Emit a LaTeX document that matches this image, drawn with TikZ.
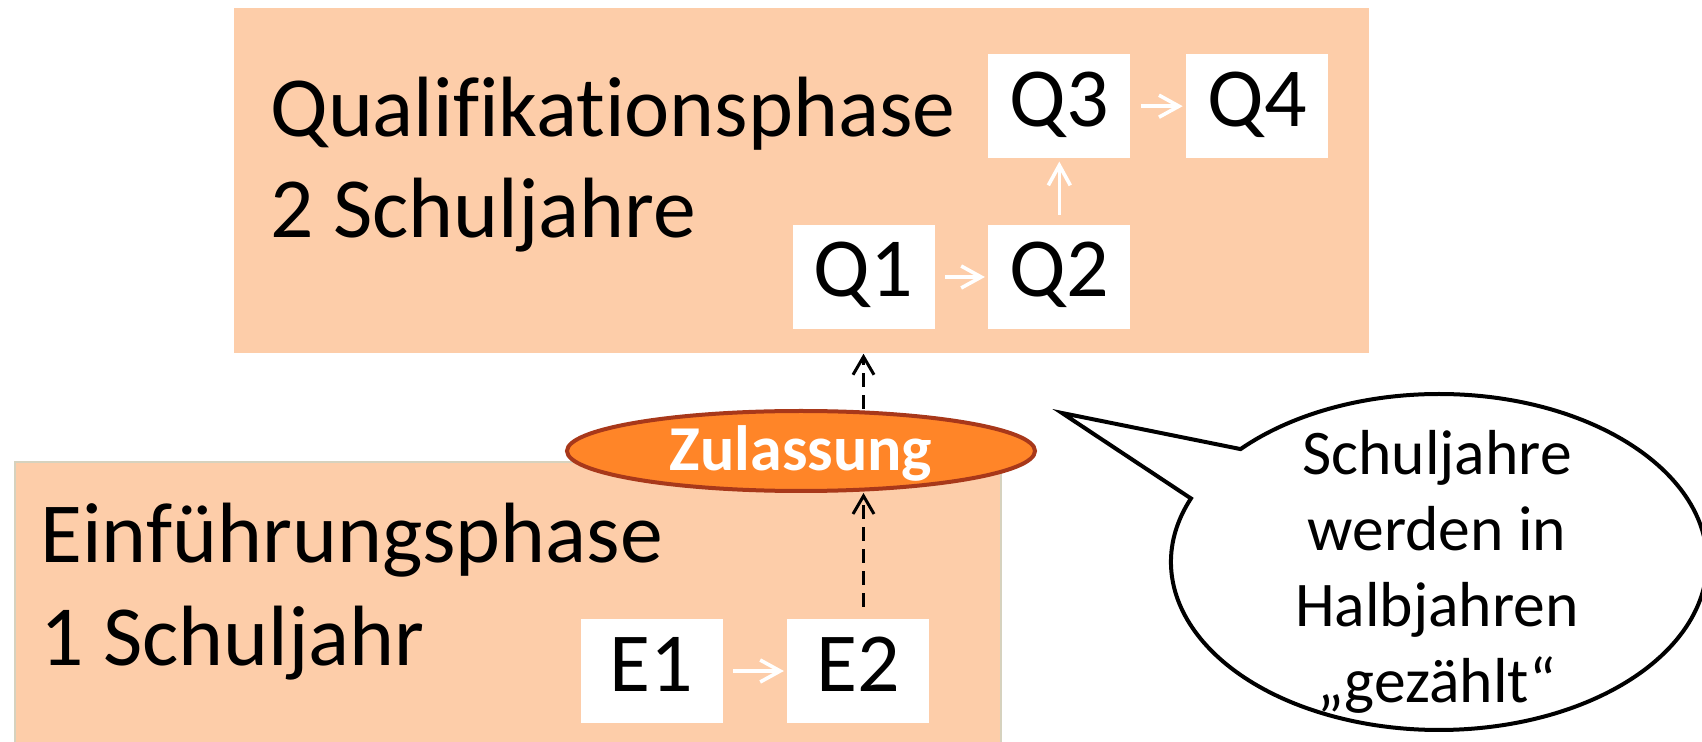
\documentclass[tikz,border=0pt]{standalone}
\usepackage{fontspec}
\setmainfont{Carlito}[Ligatures={TeX,NoCommon}]
\usetikzlibrary{arrows.meta,positioning,shapes.geometric,shapes.callouts}

\definecolor{pfirsich}{RGB}{253,205,169}
\definecolor{phasenrand}{RGB}{214,210,190}
\definecolor{zulassorange}{RGB}{255,133,40}
\definecolor{zulassrand}{RGB}{168,56,26}

\begin{document}
\begin{tikzpicture}[x=0.5pt,y=-0.5pt,
	phase/.style={fill=pfirsich,inner sep=0pt,anchor=north west},
	titel/.style={inner sep=0pt,anchor=base west,font=\fontsize{42.8}{50}\selectfont},
	halbjahr/.style={fill=white,inner sep=0pt,minimum width=71pt,minimum height=52pt,
		text height=27pt,text depth=7pt,font=\fontsize{42}{50}\selectfont},
	weiter/.style={white,line width=1.8pt,-{Straight Barb[length=10pt,width=11pt]},
		shorten <=5pt,shorten >=1.5pt},
	zulass pfeil/.style={black,line width=1.5pt,dash pattern=on 7pt off 4pt,
		-{Straight Barb[length=9pt,width=10.5pt]}}]
	\useasboundingbox (0,0) rectangle (1702,742);
	% Phasen
	\node[phase,minimum width=567.5pt,minimum height=172.5pt] (qphase) at (234,8) {};
	\node[phase,draw=phasenrand,line width=1pt,minimum width=493pt,minimum height=145pt] (ephase) at (14,461) {};
	\node[titel] (qtitel) at (270,137) {Qualifikationsphase};
	\node[titel] (qdauer) at (270,238) {2 Schuljahre};
	\node[titel] (etitel) at (40,563) {Einführungsphase};
	\node[titel] (edauer) at (40,665) {1 Schuljahr};
	% Halbjahre
	\node[halbjahr] (q1) at (863.5,277) {Q1};
	\node[halbjahr] [right=26.5pt of q1] (q2) {Q2};
	\node[halbjahr] [above=33pt of q2] (q3) {Q3};
	\node[halbjahr] [right=27.5pt of q3] (q4) {Q4};
	\node[halbjahr] (e1) at (651.5,671) {E1};
	\node[halbjahr] [right=32pt of e1] (e2) {E2};
	\path[weiter]
	(q1) edge (q2)
	(q2) edge (q3)
	(q3) edge (q4)
	(e1) edge (e2);
	% Zulassung
	\node[ellipse,fill=zulassorange,draw=zulassrand,line width=2pt,minimum width=234pt,minimum height=40pt,
		inner sep=0pt,text=white,font=\bfseries\fontsize{32}{38}\selectfont,text height=20pt,text depth=0pt]
		(zulassung) at (801,451) {Zulassung};
	\draw[zulass pfeil,shorten <=6pt] (e2.north -| q1) -- (zulassung.south -| q1);
	\draw[zulass pfeil] (zulassung.north -| q1) -- (qphase.south -| q1);
	% Sprechblase
	\coordinate (spitze) at (1062,413);
	\node[ellipse callout,draw,fill=white,line width=2pt,minimum width=268pt,minimum height=168pt,
		callout absolute pointer={(spitze)},callout pointer arc=20] (hinweis) at (1439,562) {};
	\node[align=center,inner sep=0pt,font=\fontsize{31.8}{38}\selectfont] (hinweistext) at (1437,572)
		{Schuljahre\\werden in\\Halbjahren\\„gezählt“};
\end{tikzpicture}
\end{document}
